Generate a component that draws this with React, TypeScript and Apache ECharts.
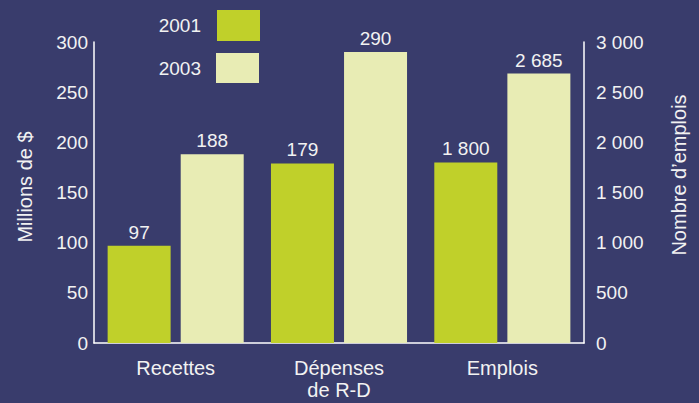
import React, { useEffect, useRef } from "react";
import * as echarts from "echarts";

const categories = ["Recettes", "Dépenses\nde R-D", "Emplois"];
const years = ["2001", "2003"];
const money2001 = [97, 179, "-"];
const money2003 = [188, 290, "-"];
const jobs2001 = ["-", "-", 1800];
const jobs2003 = ["-", "-", 2685];
const leftAxis = { min: 0, max: 300, interval: 50, name: "Millions de $" };
const rightAxis = { min: 0, max: 3000, interval: 500, name: "Nombre d’emplois" };

const BG = "#393c6c";
const GREEN = "#c0d02a";
const PALE = "#e8ecb4";
const TXT = "#f2f2f2";
const FONT = "'Liberation Sans', Arial, sans-serif";
const FS = 19;
const FT = 20;

const fmt = (v: any) => {
  const n = typeof v === "object" && v !== null ? v.value : v;
  return String(Math.round(Number(n))).replace(/\B(?=(\d{3})+(?!\d))/g, " ");
};

export default function App() {
  const ref = useRef<HTMLDivElement>(null);
  useEffect(() => {
    const chart = echarts.init(ref.current!, null, { renderer: "svg" });
    const label = {
      show: true,
      position: "top",
      distance: 4,
      color: TXT,
      fontSize: FS,
      fontFamily: FONT,
      formatter: (p: any) => fmt(p.value),
    };
    const bar = (name: string, data: any[], color: string, xi: number, yi: number) => ({
      type: "bar",
      name,
      data,
      xAxisIndex: xi,
      yAxisIndex: yi,
      barWidth: 63,
      barGap: "16%",
      itemStyle: { color },
      label,
    });
    const axisLine = { show: true, lineStyle: { color: "#ffffff", width: 1.5 } };
    const titleStyle = { fill: TXT, fontSize: FT, fontFamily: FONT, align: "center", verticalAlign: "middle" };
    chart.setOption({
      animation: false,
      backgroundColor: BG,
      textStyle: { fontFamily: FONT },
      grid: { left: 94, right: 115, top: 42, bottom: 60 },
      xAxis: [
        {
          type: "category",
          data: categories,
          axisLine,
          axisTick: { show: false },
          axisLabel: { color: TXT, fontSize: FT, fontFamily: FONT, margin: 14, lineHeight: 22 },
        },
        { type: "category", data: categories, show: false },
      ],
      yAxis: [
        {
          type: "value",
          position: "left",
          min: leftAxis.min,
          max: leftAxis.max,
          interval: leftAxis.interval,
          axisLine,
          axisTick: { show: false },
          splitLine: { show: false },
          axisLabel: { color: TXT, fontSize: FS, fontFamily: FONT, margin: 6, formatter: fmt },
        },
        {
          type: "value",
          position: "right",
          min: rightAxis.min,
          max: rightAxis.max,
          interval: rightAxis.interval,
          axisLine,
          axisTick: { show: false },
          splitLine: { show: false },
          axisLabel: { color: TXT, fontSize: FS, fontFamily: FONT, margin: 12, formatter: fmt },
        },
      ],
      graphic: [
        { type: "text", x: 25, y: 187, rotation: Math.PI / 2, style: { ...titleStyle, text: leftAxis.name } },
        { type: "text", x: 679, y: 175, rotation: Math.PI / 2, style: { ...titleStyle, text: rightAxis.name } },
        { type: "text", x: 201, y: 25, style: { text: years[0], fill: TXT, fontSize: FS, fontFamily: FONT, align: "right", verticalAlign: "middle" } },
        { type: "rect", shape: { x: 217, y: 10, width: 43, height: 31 }, style: { fill: GREEN } },
        { type: "text", x: 201, y: 68, style: { text: years[1], fill: TXT, fontSize: FS, fontFamily: FONT, align: "right", verticalAlign: "middle" } },
        { type: "rect", shape: { x: 216, y: 53, width: 43, height: 30 }, style: { fill: PALE } },
      ],
      series: [
        bar(years[0], money2001, GREEN, 0, 0),
        bar(years[1], money2003, PALE, 0, 0),
        bar(years[0], jobs2001, GREEN, 1, 1),
        bar(years[1], jobs2003, PALE, 1, 1),
      ],
    });
    return () => chart.dispose();
  }, []);
  return <div ref={ref} style={{ position: "fixed", left: 0, top: 0, width: 699, height: 403 }} />;
}
